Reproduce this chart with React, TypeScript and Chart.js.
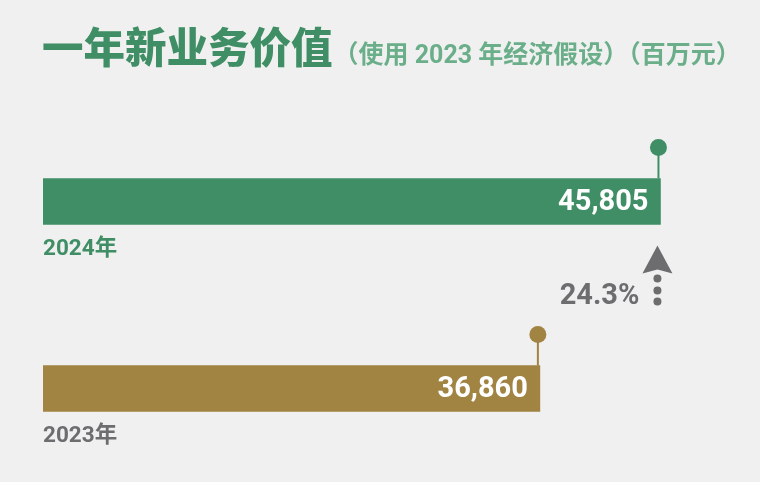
import { Chart, registerables, Plugin } from "chart.js";
import { useEffect, useRef } from "react";

Chart.register(...registerables);

const years = ["2024年", "2023年"];
const values = [45805, 36860];
const barColors = ["#3f8e65", "#a18342"];
const labelColors = ["#3f8e65", "#6d6d70"];

const FONT = "Roboto, 'Noto Sans CJK SC', sans-serif";
const GRAY = "#6d6d70";

const decorPlugin: Plugin<"bar"> = {
  id: "decor",
  afterDraw: (chart) => {
    const ctx = chart.ctx;
    const meta = chart.getDatasetMeta(0);
    ctx.save();

    // title
    ctx.textBaseline = "middle";
    ctx.textAlign = "left";
    ctx.fillStyle = "#3f8e65";
    ctx.font = `900 41.5px ${FONT}`;
    ctx.fillText("一年新业务价值", 42, 53);
    const w = ctx.measureText("一年新业务价值").width;
    ctx.fillStyle = "#6aae8a";
    ctx.font = `bold 25px ${FONT}`;
    ctx.fillText("（使用 2023 年经济假设）（百万元）", 42 + w + 1, 57);

    meta.data.forEach((bar: any, i) => {
      const x = bar.x;
      const y = bar.y;
      const top = y - 23;

      // value inside bar
      ctx.fillStyle = "#ffffff";
      ctx.font = `bold 29px ${FONT}`;
      ctx.textAlign = "right";
      ctx.fillText(values[i].toLocaleString("en-US"), x - 12, y + 1);

      // category label below bar
      ctx.fillStyle = labelColors[i];
      ctx.font = `bold 22.5px ${FONT}`;
      ctx.textAlign = "left";
      ctx.fillText(years[i], chart.chartArea.left, y + 48);

      // lollipop
      ctx.strokeStyle = barColors[i];
      ctx.lineWidth = 2;
      ctx.beginPath();
      ctx.moveTo(x - 2, top);
      ctx.lineTo(x - 2, y - 54);
      ctx.stroke();
      ctx.fillStyle = barColors[i];
      ctx.beginPath();
      ctx.arc(x - 2, y - 54, 8.5, 0, Math.PI * 2);
      ctx.fill();
    });

    // growth arrow
    const b0: any = meta.data[0];
    const ax = b0.x - 3;
    const ay = b0.y + 44;
    ctx.fillStyle = GRAY;
    ctx.beginPath();
    ctx.moveTo(ax, ay);
    ctx.lineTo(ax + 15, ay + 28);
    ctx.lineTo(ax, ay + 24);
    ctx.lineTo(ax - 15, ay + 28);
    ctx.closePath();
    ctx.fill();
    [33, 45, 56].forEach((d) => {
      ctx.beginPath();
      ctx.arc(ax, ay + d, 4, 0, Math.PI * 2);
      ctx.fill();
    });
    const pct = ((values[0] / values[1] - 1) * 100).toFixed(1) + "%";
    ctx.font = `bold 29px ${FONT}`;
    ctx.textAlign = "right";
    ctx.fillText(pct, ax - 18, ay + 51);

    ctx.restore();
  },
};

const App = () => {
  const chartRef = useRef<HTMLCanvasElement>(null);
  const chartInstance = useRef<Chart | null>(null);

  useEffect(() => {
    document.body.style.margin = "0";
    document.body.style.background = "#f0f0f0";
    if (!chartRef.current) return;
    if (chartInstance.current) chartInstance.current.destroy();

    chartInstance.current = new Chart(chartRef.current, {
      type: "bar",
      data: {
        labels: years,
        datasets: [
          {
            data: values,
            backgroundColor: barColors,
            barThickness: 46,
            borderWidth: 0,
          },
        ],
      },
      options: {
        indexAxis: "y",
        animation: false,
        responsive: true,
        maintainAspectRatio: false,
        layout: { padding: { top: 108, left: 43, right: 43, bottom: 0 } },
        plugins: {
          legend: { display: false },
          tooltip: { enabled: false },
          title: { display: false },
        },
        scales: {
          x: { display: false, min: 0, max: 50000 },
          y: { display: false },
        },
      },
      plugins: [decorPlugin],
    });

    return () => {
      if (chartInstance.current) {
        chartInstance.current.destroy();
        chartInstance.current = null;
      }
    };
  }, []);

  return (
    <div style={{ width: 760, height: 482, background: "#f0f0f0" }}>
      <canvas ref={chartRef} />
    </div>
  );
};

export default App;
